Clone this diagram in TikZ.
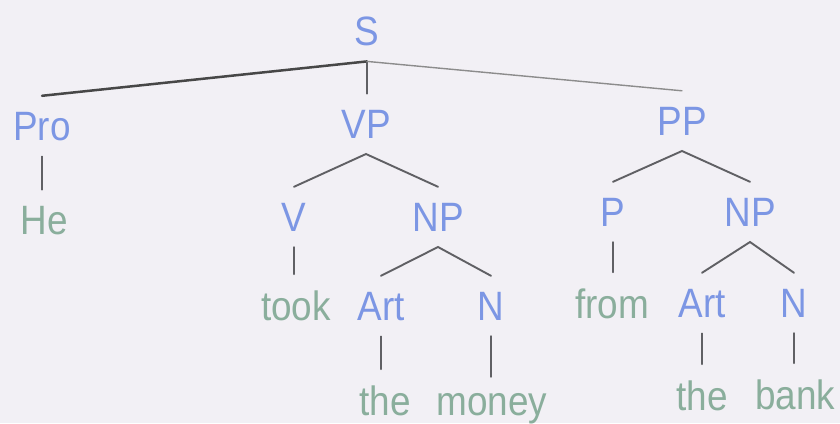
\documentclass[tikz,border=0pt]{standalone}
\usepackage{fontspec}
\setmainfont{Liberation Sans}[FakeStretch=0.9]
\definecolor{bgcol}{RGB}{242,240,245}
\definecolor{catblue}{RGB}{124,150,228}
\definecolor{wordgreen}{RGB}{138,174,156}
\definecolor{branchgray}{RGB}{96,96,100}
\begin{document}
\begin{tikzpicture}[x=0.5pt,y=-0.5pt,
  every node/.style={inner sep=0pt,outer xsep=0pt,outer ysep=8pt,anchor=base,
    font=\fontsize{20.5pt}{24pt}\selectfont},
  cat/.style={text=catblue},
  word/.style={text=wordgreen},
  branch/.style={draw=branchgray,line width=0.95pt,line cap=round},
  stem/.style={draw=branchgray,line width=0.75pt,line cap=round}]
  % canvas
  \fill[bgcol] (0,0) rectangle (840,423);
  \useasboundingbox (0,0) rectangle (840,423);

  % categories
  \node[cat] (S)    at (367,45)  {S};
  \node[cat] (Pro)  at (42,140)  {Pro};
  \node[cat] (VP)   at (366,138) {VP};
  \node[cat] (PP)   at (682,135) {PP};
  \node[cat] (V)    at (294,231) {V};
  \node[cat] (NPa)  at (438,231) {NP};
  \node[cat] (P)    at (613,226) {P};
  \node[cat] (NPb)  at (750,226) {NP};
  \node[cat] (Arta) at (381,320) {Art};
  \node[cat] (Na)   at (491,320) {N};
  \node[cat] (Artb) at (702,317) {Art};
  \node[cat] (Nb)   at (794,317) {N};

  % words
  \node[word] (he)    at (44,234)  {He};
  \node[word] (took)  at (296,320) {took};
  \node[word] (from)  at (612,318) {from};
  \node[word] (thea)  at (385,415) {the};
  \node[word] (money) at (492,415) {money};
  \node[word] (theb)  at (702,410) {the};
  \node[word] (bank)  at (795,409) {bank};

  % top level
  \draw[draw=black!72,line width=1.25pt,line cap=round] (S.south) -- (Pro.north);
  \draw[stem] (S.south) -- (S.south |- VP.north);
  \draw[draw=black!45,line width=0.7pt,line cap=round] (S.south) -- (PP.north);

  % phrase branches
  \draw[branch] (V.north) -- (VP.south) -- (NPa.north);
  \draw[branch] (Arta.north) -- (NPa.south) -- (Na.north);
  \draw[branch] (P.north) -- (PP.south) -- (NPb.north);
  \draw[branch] (Artb.north) -- (NPb.south) -- (Nb.north);

  % lexical stems
  \draw[stem] (Pro.south) -- (Pro.south |- he.north);
  \draw[stem] (V.south) -- (V.south |- took.north);
  \draw[stem] (P.south) -- (P.south |- from.north);
  \draw[stem] (Arta.south) -- (Arta.south |- thea.north);
  \draw[stem] (Na.south) -- (Na.south |- money.north);
  \draw[stem] (Artb.south) -- (Artb.south |- theb.north);
  \draw[stem] (Nb.south) -- (Nb.south |- bank.north);
\end{tikzpicture}
\end{document}
